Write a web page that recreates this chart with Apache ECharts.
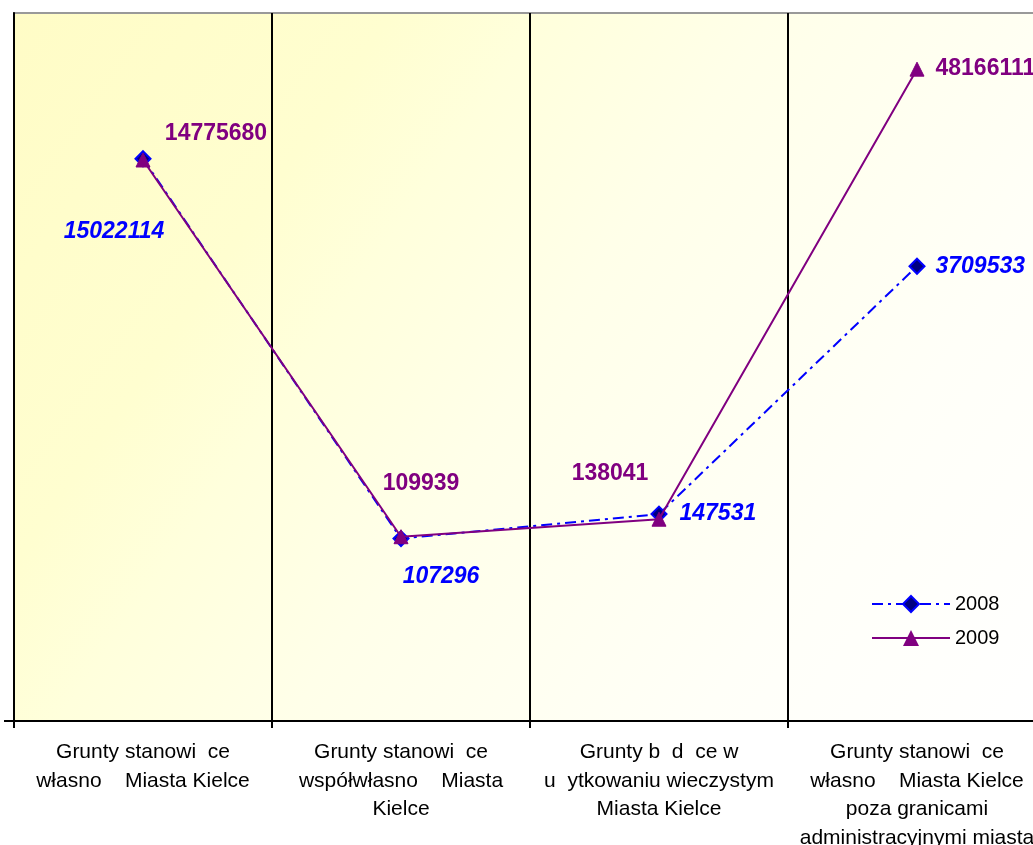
<!DOCTYPE html>
<html><head><meta charset="utf-8">
<script src="https://cdn.jsdelivr.net/npm/echarts@6/dist/echarts.min.js"></script>
<style>html,body{margin:0;padding:0;background:#fff}#c{width:1033px;height:845px}</style>
</head><body><div id="c"></div>
<script>
const categories = [
  'Grunty stanowi  ce\nwłasno    Miasta Kielce',
  'Grunty stanowi  ce\nwspółwłasno    Miasta\nKielce',
  'Grunty b  d  ce w\nu  ytkowaniu wieczystym\nMiasta Kielce',
  'Grunty stanowi  ce\nwłasno    Miasta Kielce\npoza granicami\nadministracyjnymi miasta'
];
const seriesNames = ['2008', '2009'];
const values2008 = [15022114, 107296, 147531, 3709533];
const values2009 = [14775680, 109939, 138041, 48166111];
const yMin = 10000, yMax = 100000000;

// label placement (style only)
const labelPos2008 = [
  {position: 'inside', offset: [-29, 73]},
  {position: 'inside', offset: [40, 38]},
  {position: 'right', distance: 12},
  {position: 'right', distance: 10}
];
const labelPos2009 = [
  {position: 'inside', offset: [73, -26]},
  {position: 'inside', offset: [20, -53]},
  {position: 'inside', offset: [-49, -46]},
  {position: 'right', distance: 11}
];

const chart = echarts.init(document.getElementById('c'), null, {renderer: 'canvas'});
const gridL = 14, gridT = 13, gridW = 1032, gridH = 708;

function mk(vals, pos) {
  return vals.map((v, i) => ({value: v, label: pos[i]}));
}

chart.setOption({
  animation: false,
  backgroundColor: '#ffffff',
  grid: {
    left: gridL, top: gridT, width: gridW, height: gridH,
    outerBoundsMode: 'none', containLabel: false,
    show: true, borderColor: '#999999', borderWidth: 2,
    backgroundColor: {type: 'linear', x: 0, y: 0, x2: 1, y2: 1, colorStops: [
      {offset: 0, color: '#FFFCC6'}, {offset: 0.25, color: '#FFFED0'},
      {offset: 0.35, color: '#FFFFDC'}, {offset: 0.5, color: '#FFFFE9'},
      {offset: 0.77, color: '#FFFFF8'}, {offset: 1, color: '#FFFFFF'}
    ]}
  },
  legend: {
    orient: 'vertical', left: 866, top: 589, itemWidth: 78, itemHeight: 20, itemGap: 14,
    textStyle: {fontFamily: 'Liberation Sans, Arial, sans-serif', fontSize: 20, color: '#000'},
    data: seriesNames
  },
  xAxis: {
    type: 'category', data: categories, boundaryGap: true,
    axisLine: {lineStyle: {color: '#000', width: 2}},
    axisTick: {show: true, length: 7, interval: 0, lineStyle: {color: '#000', width: 2}},
    splitLine: {show: true, interval: 0, lineStyle: {color: '#000', width: 2}},
    axisLabel: {interval: 0, margin: 17, fontFamily: 'Liberation Sans, Arial, sans-serif',
      fontSize: 21, lineHeight: 28.5, color: '#000', align: 'center'}
  },
  yAxis: {
    type: 'log', logBase: 10, min: yMin, max: yMax,
    axisLine: {show: true, lineStyle: {color: '#000', width: 2}},
    axisTick: {show: false}, axisLabel: {show: false}, splitLine: {show: false}
  },
  series: [
    {
      name: seriesNames[0], type: 'line', data: mk(values2008, labelPos2008),
      symbol: 'diamond', symbolSize: 15,
      lineStyle: {color: '#0000FF', width: 2, type: [11, 5, 3, 5]},
      itemStyle: {color: '#000080', borderColor: '#0000FF', borderWidth: 2},
      label: {show: true, color: '#0000FF', fontFamily: 'Liberation Sans, Arial, sans-serif',
        fontSize: 23, fontWeight: 'bold', fontStyle: 'italic'},
      z: 2
    },
    {
      name: seriesNames[1], type: 'line', data: mk(values2009, labelPos2009),
      symbol: 'triangle', symbolSize: 14,
      lineStyle: {color: '#800080', width: 2},
      itemStyle: {color: '#800080', borderColor: '#800080'},
      label: {show: true, color: '#800080', fontFamily: 'Liberation Sans, Arial, sans-serif',
        fontSize: 23, fontWeight: 'bold'},
      z: 3
    }
  ]
});

const yb = chart.convertToPixel({yAxisIndex: 0}, yMin);
chart.setOption({
  graphic: [{type: 'line', shape: {x1: gridL - 10, y1: yb, x2: gridL, y2: yb},
    style: {stroke: '#000', lineWidth: 2}, z: 100}]
});
</script></body></html>
